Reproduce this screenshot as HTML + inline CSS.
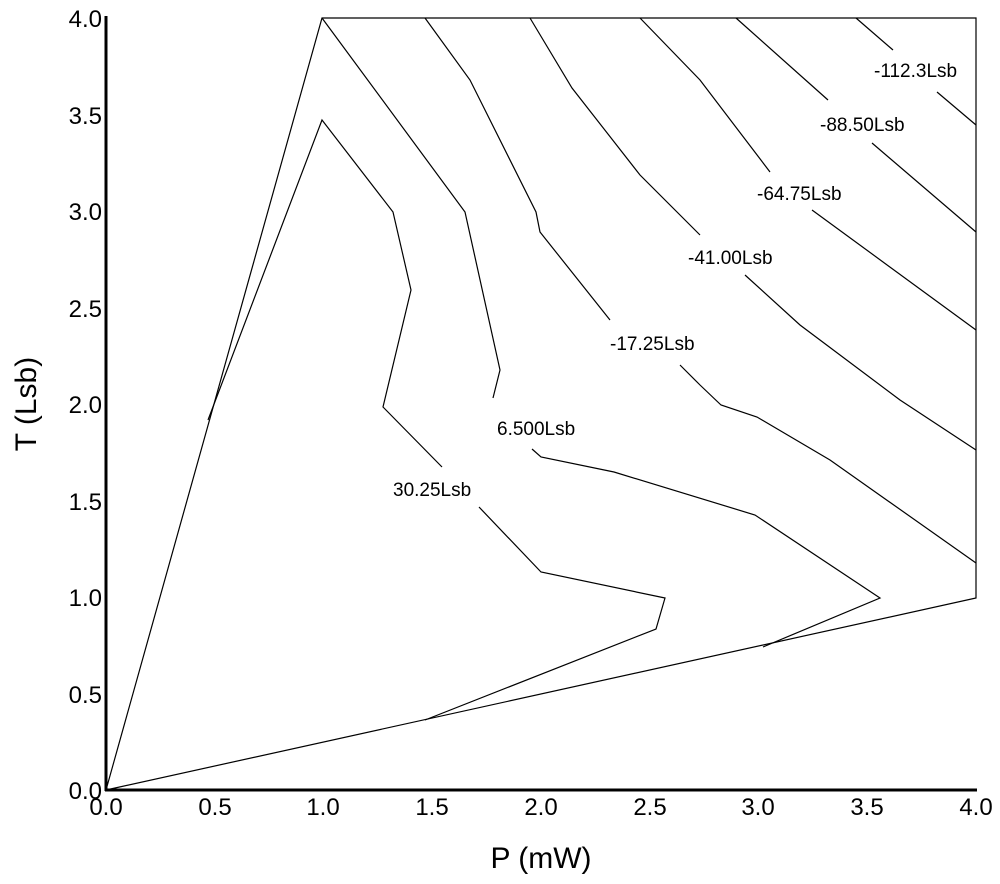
<!DOCTYPE html>
<html><head><meta charset="utf-8"><style>
html,body{margin:0;padding:0;background:#fff;}
svg{display:block;}
text{font-family:"Liberation Sans",Arial,sans-serif;fill:#000;}
</style></head><body>
<svg width="1000" height="884" viewBox="0 0 1000 884" xmlns="http://www.w3.org/2000/svg">
<g fill="none" stroke="#000" stroke-width="1.2">
<polyline points="106,790 322,18 976,18 976,598 106,790"/>
<!-- 30.25 -->
<polyline points="208,420 322,120 393,212 411,290 383,407 442,467"/>
<polyline points="479,507 541,572 665,598 656,629 425,720"/>
<!-- 6.5 -->
<polyline points="322,18 465,212 500,370 493,398"/>
<polyline points="532,449 541,457 614,472 755,515 880,598 763,647"/>
<!-- -17.25 -->
<polyline points="425,18 470,80 536,212 540,232 610,320"/>
<polyline points="680,365 700,385 721,405 757,417 830,460 976,563"/>
<!-- -41 -->
<polyline points="530,18 572,88 640,175 700,235"/>
<polyline points="745,275 800,325 900,400 976,450"/>
<!-- -64.75 -->
<polyline points="640,18 700,80 770,172"/>
<polyline points="812,210 976,330"/>
<!-- -88.5 -->
<polyline points="736,18 828,100"/>
<polyline points="872,143 976,232"/>
<!-- -112.3 -->
<polyline points="856,18 893,50"/>
<polyline points="937,92 976,125"/>
</g>
<g stroke="#000" stroke-width="3" fill="none">
<line x1="106" y1="16" x2="106" y2="791"/>
<line x1="105" y1="790" x2="977" y2="790"/>
</g>
<g font-size="19">
<text x="874" y="77">-112.3Lsb</text>
<text x="820" y="131">-88.50Lsb</text>
<text x="757" y="200">-64.75Lsb</text>
<text x="688" y="264">-41.00Lsb</text>
<text x="610" y="350">-17.25Lsb</text>
<text x="497" y="435">6.500Lsb</text>
<text x="393" y="496">30.25Lsb</text>
</g>
<g font-size="24" text-anchor="end">
<text x="102" y="799">0.0</text>
<text x="102" y="703">0.5</text>
<text x="102" y="606">1.0</text>
<text x="102" y="510">1.5</text>
<text x="102" y="413">2.0</text>
<text x="102" y="317">2.5</text>
<text x="102" y="220">3.0</text>
<text x="102" y="124">3.5</text>
<text x="102" y="27">4.0</text>
</g>
<g font-size="24" text-anchor="middle">
<text x="106" y="815">0.0</text>
<text x="215" y="815">0.5</text>
<text x="323" y="815">1.0</text>
<text x="432" y="815">1.5</text>
<text x="541" y="815">2.0</text>
<text x="650" y="815">2.5</text>
<text x="758" y="815">3.0</text>
<text x="867" y="815">3.5</text>
<text x="976" y="815">4.0</text>
</g>
<text x="541" y="868" font-size="30" text-anchor="middle">P (mW)</text>
<text transform="translate(36,404) rotate(-90)" font-size="30" text-anchor="middle">T (Lsb)</text>
</svg>
</body></html>
